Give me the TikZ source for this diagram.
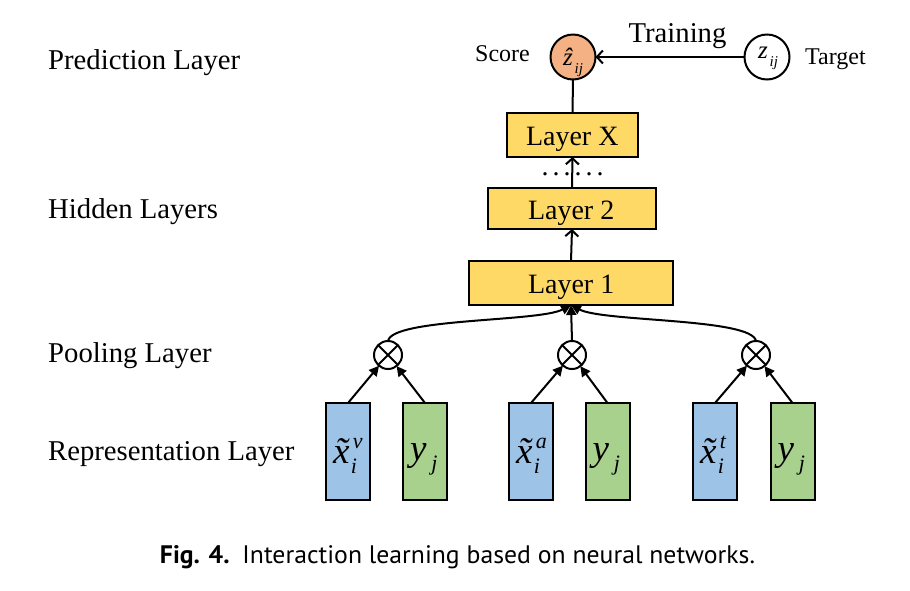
\documentclass[tikz,border=0pt]{standalone}
\usepackage{fontspec}
\setmainfont{Liberation Serif}
\newfontfamily\capfont{PT Sans}
\usetikzlibrary{arrows.meta}
\definecolor{yel}{HTML}{FFD966}
\definecolor{blu}{HTML}{9DC3E6}
\definecolor{grn}{HTML}{A9D18E}
\definecolor{org}{HTML}{F4B183}
% #1 left offset from node centre, #2 baseline shift, #3 content
\newcommand\putat[3]{\smash{\makebox[0pt][l]{\hspace*{#1}\raisebox{#2}{#3}}}}
\newcommand\ssz{\fontsize{22}{22}\selectfont\itshape}
\newcommand\tsz{\fontsize{15}{15}\selectfont\itshape}
\newcommand\xtil[1]{{\itshape\accent"02DC x}\makebox[0pt][l]{\kern3.5pt\raisebox{15pt}{\ssz #1}}\kern1.5pt\raisebox{-10pt}{\ssz i}}
\newcommand\yj{{\itshape y}\kern5pt\raisebox{-10pt}{\ssz j}}
\tikzset{
  lbl/.style={anchor=base west,inner sep=0pt,font=\fontsize{28.7}{32}\selectfont},
  small/.style={anchor=base west,inner sep=0pt,font=\fontsize{24}{28}\selectfont},
  layerbox/.style={draw,line width=2pt,fill=yel,inner sep=0pt,outer sep=0pt,font=\fontsize{28}{32}\selectfont},
  repbox/.style={draw,line width=2pt,inner sep=0pt,outer sep=0pt,minimum width=44pt,minimum height=97pt,font=\fontsize{37}{40}\selectfont},
  zcirc/.style={circle,draw,line width=2pt,minimum size=45pt,inner sep=0pt,outer sep=0pt,font=\fontsize{25}{28}\selectfont},
  pool/.style={circle,draw,line width=2pt,minimum size=28pt,inner sep=0pt,outer sep=0pt,
    path picture={\draw[line width=2pt] (path picture bounding box.north west)--(path picture bounding box.south east)
       (path picture bounding box.north east)--(path picture bounding box.south west);}},
  openarr/.style={line width=2pt,-{Straight Barb[length=6pt,width=13pt]}},
  fillarr/.style={line width=2pt,-{Triangle[length=10pt,width=10pt]}},
}
\begin{document}
\begin{tikzpicture}[x=1pt,y=-1pt]
\useasboundingbox[fill=white] (0,0) rectangle (910,590);
% left labels
\node[lbl] (lpred) at (48,69) {Prediction Layer};
\node[lbl] (lhid) at (48,218) {Hidden Layers};
\node[lbl] (lpool) at (48,362) {Pooling Layer};
\node[lbl] (lrep) at (48,460) {Representation Layer};
% prediction
\node[zcirc,fill=org] (score) at (573,57) {\putat{-10pt}{-8pt}{{\itshape\accent"02C6 z}\kern2pt\raisebox{-8pt}{\tsz ij}}};
\node[zcirc,fill=white] (target) at (767,57) {\putat{-9pt}{-1pt}{{\itshape z}\kern2pt\raisebox{-8pt}{\tsz ij}}};
\node[small] (scorel) at (475,61) {Score};
\node[small] (targetl) at (805,64) {Target};
\node[lbl,anchor=base] (train) at (677.5,42) {Training};
\draw[openarr] (target) -- (score);
% hidden layers
\node[layerbox,minimum width=131pt,minimum height=44pt] (lx) at (572.5,135) {\putat{-46.5pt}{-10pt}{Layer X}};
\node[layerbox,minimum width=168pt,minimum height=41pt] (l2) at (572,208.5) {\putat{-44pt}{-10.5pt}{Layer 2}};
\node[layerbox,minimum width=204pt,minimum height=44pt] (l1) at (571,283) {\putat{-43pt}{-10pt}{Layer 1}};
\node[anchor=base west,inner sep=0pt,font=\fontsize{28}{28}\selectfont] (dots) at (541.5,175.5) {.\kern4pt.\kern4pt.\kern4pt.\kern4pt.\kern4pt.};
\draw[line width=2pt] (lx.north) -- (score.south);
\draw[openarr] (l2.north) -- (lx.south);
\draw[openarr] (l1.north) -- (l2.south);
% pooling
\node[pool] (p1) at (388,355) {};
\node[pool] (p2) at (572,355) {};
\node[pool] (p3) at (756,355) {};
\draw[fillarr] (p1.north) .. controls +(4,-23) and +(-32,17) .. (l1.south);
\draw[fillarr] (p2.north) -- (l1.south);
\draw[fillarr] (p3.north) .. controls +(-4,-23) and +(32,17) .. (l1.south);
% representation
\node[repbox,fill=blu] (b1) at (348,451.5) {\putat{-15pt}{-11.5pt}{\xtil{v}}};
\node[repbox,fill=grn] (g1) at (425,451.5) {\putat{-15pt}{-8.5pt}{\yj}};
\node[repbox,fill=blu] (b2) at (531,451.5) {\putat{-15pt}{-11.5pt}{\xtil{a}}};
\node[repbox,fill=grn] (g2) at (607.5,451.5) {\putat{-15pt}{-8.5pt}{\yj}};
\node[repbox,fill=blu] (b3) at (715,451.5) {\putat{-15pt}{-11.5pt}{\xtil{t}}};
\node[repbox,fill=grn] (g3) at (792.5,451.5) {\putat{-15pt}{-8.5pt}{\yj}};
\draw[fillarr] (b1.north) -- (p1);
\draw[fillarr] (g1.north) -- (p1);
\draw[fillarr] (b2.north) -- (p2);
\draw[fillarr] (g2.north) -- (p2);
\draw[fillarr] (b3.north) -- (p3);
\draw[fillarr] (g3.north) -- (p3);
% caption
\node[inner sep=0pt,anchor=base] (cap) at (457.5,563) {\resizebox{595pt}{18pt}{\capfont\fontsize{24}{28}\selectfont\textbf{Fig. 4.}\enspace Interaction learning based on neural networks.}};
\end{tikzpicture}
\end{document}
